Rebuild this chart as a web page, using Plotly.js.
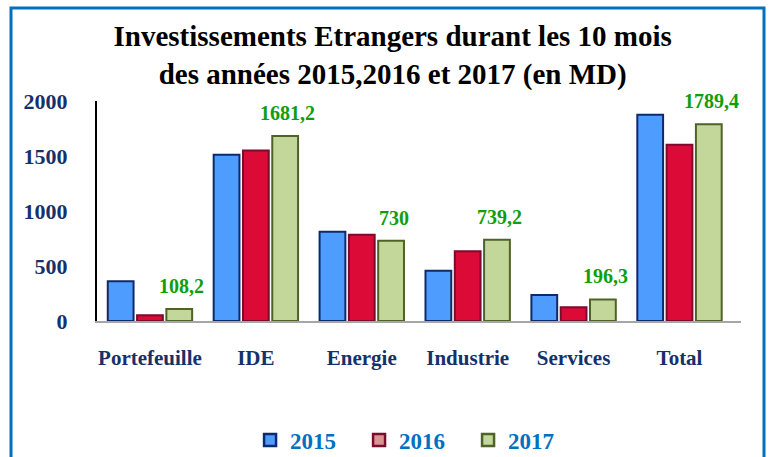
<!DOCTYPE html>
<html>
<head>
<meta charset="utf-8">
<script src="https://cdn.plot.ly/plotly-3.0.1.min.js"></script>
<style>
html,body{margin:0;padding:0;background:#fff;}
#chart{width:773px;height:457px;}
</style>
</head>
<body>
<div id="chart"></div>
<script>
const categories = ['Portefeuille', 'IDE', 'Energie', 'Industrie', 'Services', 'Total'];
const years = ['2015', '2016', '2017'];
const v2015 = [362, 1512, 812, 456, 237, 1874];
const v2016 = [52, 1550, 784, 634, 126, 1602];
const v2017 = [108.2, 1681.2, 730, 739.2, 196.3, 1789.4];
const yTicks = [0, 500, 1000, 1500, 2000];

const FONT = '"Liberation Serif", "Times New Roman", serif';
const fills = ['#4F9CFF', '#DC0A36', '#C4D79B'];
const legendFills = ['#4F9CFF', '#D99594', '#C4D79B'];
const lines = ['#0D2B6B', '#7A0C2C', '#4F6228'];
const series = [v2015, v2016, v2017];

const traces = series.map((vals, i) => ({
  type: 'bar',
  x: categories,
  y: vals,
  name: years[i],
  offsetgroup: 'g' + i,
  showlegend: false,
  marker: {color: fills[i], line: {color: lines[i], width: 2}},
  hoverinfo: 'x+y'
}));
// legend entries (same offset groups, no visible bars)
years.forEach((yr, i) => {
  traces.push({
    type: 'bar', x: [categories[0]], y: [null], name: yr,
    offsetgroup: 'g' + i,
    marker: {color: legendFills[i], line: {color: lines[i], width: 2.5}},
    showlegend: true
  });
});

const annotations = categories.map((c, j) => ({
  x: c, y: v2017[j], xref: 'x', yref: 'y',
  text: String(v2017[j]).replace('.', ','),
  showarrow: false, xshift: 32, yshift: 23, yanchor: 'middle',
  font: {family: FONT, size: 20, color: '#0E9E0E', weight: 'bold'}
}));

const layout = {
  width: 773, height: 457,
  paper_bgcolor: '#fff', plot_bgcolor: '#fff',
  margin: {l: 97, r: 32, t: 101, b: 136},
  barmode: 'group', bargap: 0.17, bargroupgap: 0.12,
  title: {
    text: 'Investissements Etrangers durant les 10 mois<br>des années 2015,2016 et 2017 (en MD)',
    font: {family: FONT, size: 29, color: '#000', weight: 'bold'},
    x: 0.508, xanchor: 'center', y: 1 - 46/457, yanchor: 'top', yref: 'container'
  },
  xaxis: {
    showline: true, linecolor: '#A6A6A6', linewidth: 2,
    showgrid: false, zeroline: false, ticks: '',
    ticklabelstandoff: 17,
    tickfont: {family: FONT, size: 21, color: '#16306B', weight: 'bold'}
  },
  yaxis: {
    range: [0, 2000], showline: true, linecolor: '#000', linewidth: 2,
    showgrid: false, zeroline: false, ticks: '',
    tickvals: yTicks, ticktext: yTicks.map(String),
    ticklabelstandoff: 23,
    tickfont: {family: FONT, size: 22, color: '#16306B', weight: 'bold'}
  },
  legend: {
    orientation: 'h', xref: 'container', yref: 'container',
    x: 0.535, xanchor: 'center', y: 1 - 440/457, yanchor: 'middle',
    entrywidth: 64, entrywidthmode: 'pixels',
    font: {family: FONT, size: 23, color: '#0070C0', weight: 'bold'}
  },
  annotations: annotations,
  shapes: [{
    type: 'rect', xref: 'paper', yref: 'paper',
    x0: (11 - 97) / 644, x1: (764 - 97) / 644,
    y0: (321 - 480) / 220, y1: (321 - 8) / 220,
    line: {color: '#0070C0', width: 3}, fillcolor: 'rgba(0,0,0,0)', layer: 'below'
  }],
  showlegend: true
};

Plotly.newPlot('chart', traces, layout, {displayModeBar: false, staticPlot: true});
</script>
</body>
</html>
